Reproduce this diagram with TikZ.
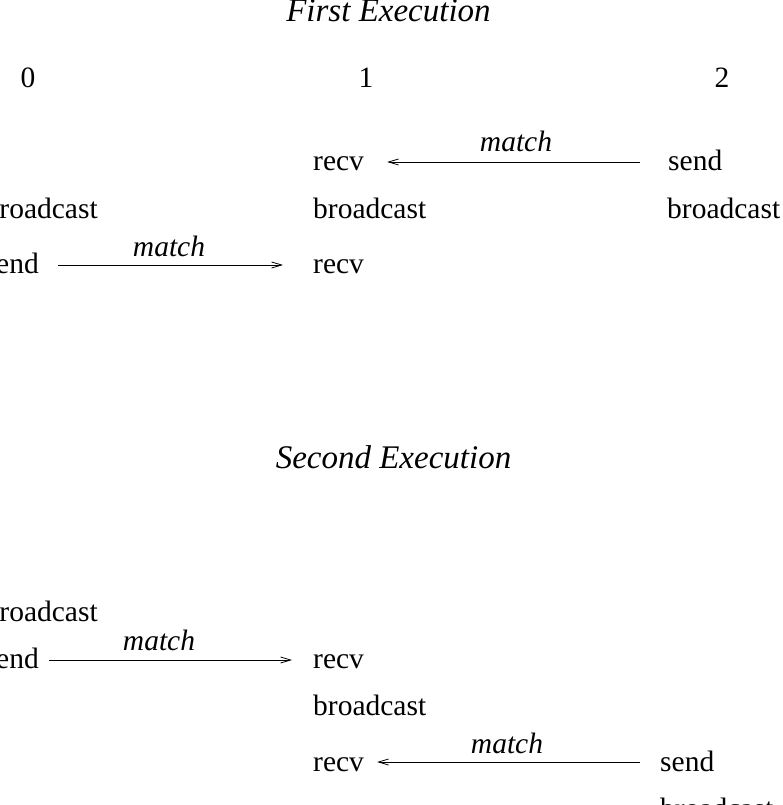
\documentclass[tikz,border=0pt]{standalone}
\usepackage{fontspec}
\setmainfont{Liberation Serif}
\usetikzlibrary{arrows.meta}
\tikzset{
  txt/.style={inner sep=0pt, anchor=base west, font=\fontsize{29.5}{30}\selectfont},
  num/.style={inner sep=0pt, anchor=base, font=\fontsize{29.5}{30}\selectfont},
  lbl/.style={inner sep=0pt, anchor=base, font=\fontsize{29.5}{30}\selectfont\itshape},
  ttl/.style={inner sep=0pt, anchor=base, font=\fontsize{33}{34}\selectfont\itshape},
  arr/.style={line width=0.9pt, -{Straight Barb[length=10pt,width=6pt,line width=0.8pt]}}
}
\begin{document}
\begin{tikzpicture}[x=1pt,y=-1pt]
\path[use as bounding box, fill=white] (0,0) rectangle (783,805);
% First execution
\node[ttl] (t1) at (388.5,22) {First Execution};
\node[num] (p0) at (28,88) {0};
\node[num] (p1) at (366,88) {1};
\node[num] (p2) at (722,88) {2};
\node[txt] (a1r) at (313,171) {recv};
\node[txt] (a2s) at (668,171) {send};
\node[txt] (a0b) at (-15.5,218) {broadcast};
\node[txt] (a1b) at (313,218) {broadcast};
\node[txt] (a2b) at (667,218) {broadcast};
\node[txt] (a0s) at (-15.5,273) {send};
\node[txt] (a1r2) at (313,273) {recv};
\draw[arr] ([xshift=-28pt,yshift=9pt]a2s.base west) -- ([xshift=23pt,yshift=9pt]a1r.base east);
\node[lbl] (m1) at (516,152) {match};
\draw[arr] ([xshift=19.5pt,yshift=8pt]a0s.base east) -- ([xshift=-30pt,yshift=8pt]a1r2.base west);
\node[lbl] (m2) at (169,256) {match};
% Second execution
\node[ttl] (t2) at (393.5,468) {Second Execution};
\node[txt] (b0b) at (-15.5,621) {broadcast};
\node[txt] (b0s) at (-15.5,668) {send};
\node[txt] (b1r) at (313,668) {recv};
\node[txt] (b1b) at (313,715) {broadcast};
\node[txt] (b1r2) at (313,771) {recv};
\node[txt] (b2s) at (660,771) {send};
\node[txt] (b2b) at (660,818) {broadcast};
\draw[arr] ([xshift=10.5pt,yshift=8pt]b0s.base east) -- ([xshift=-21pt,yshift=8pt]b1r.base west);
\node[lbl] (m3) at (159,650) {match};
\draw[arr] ([xshift=-20pt,yshift=9pt]b2s.base west) -- ([xshift=13pt,yshift=9pt]b1r2.base east);
\node[lbl] (m4) at (507,753) {match};
\end{tikzpicture}
\end{document}
